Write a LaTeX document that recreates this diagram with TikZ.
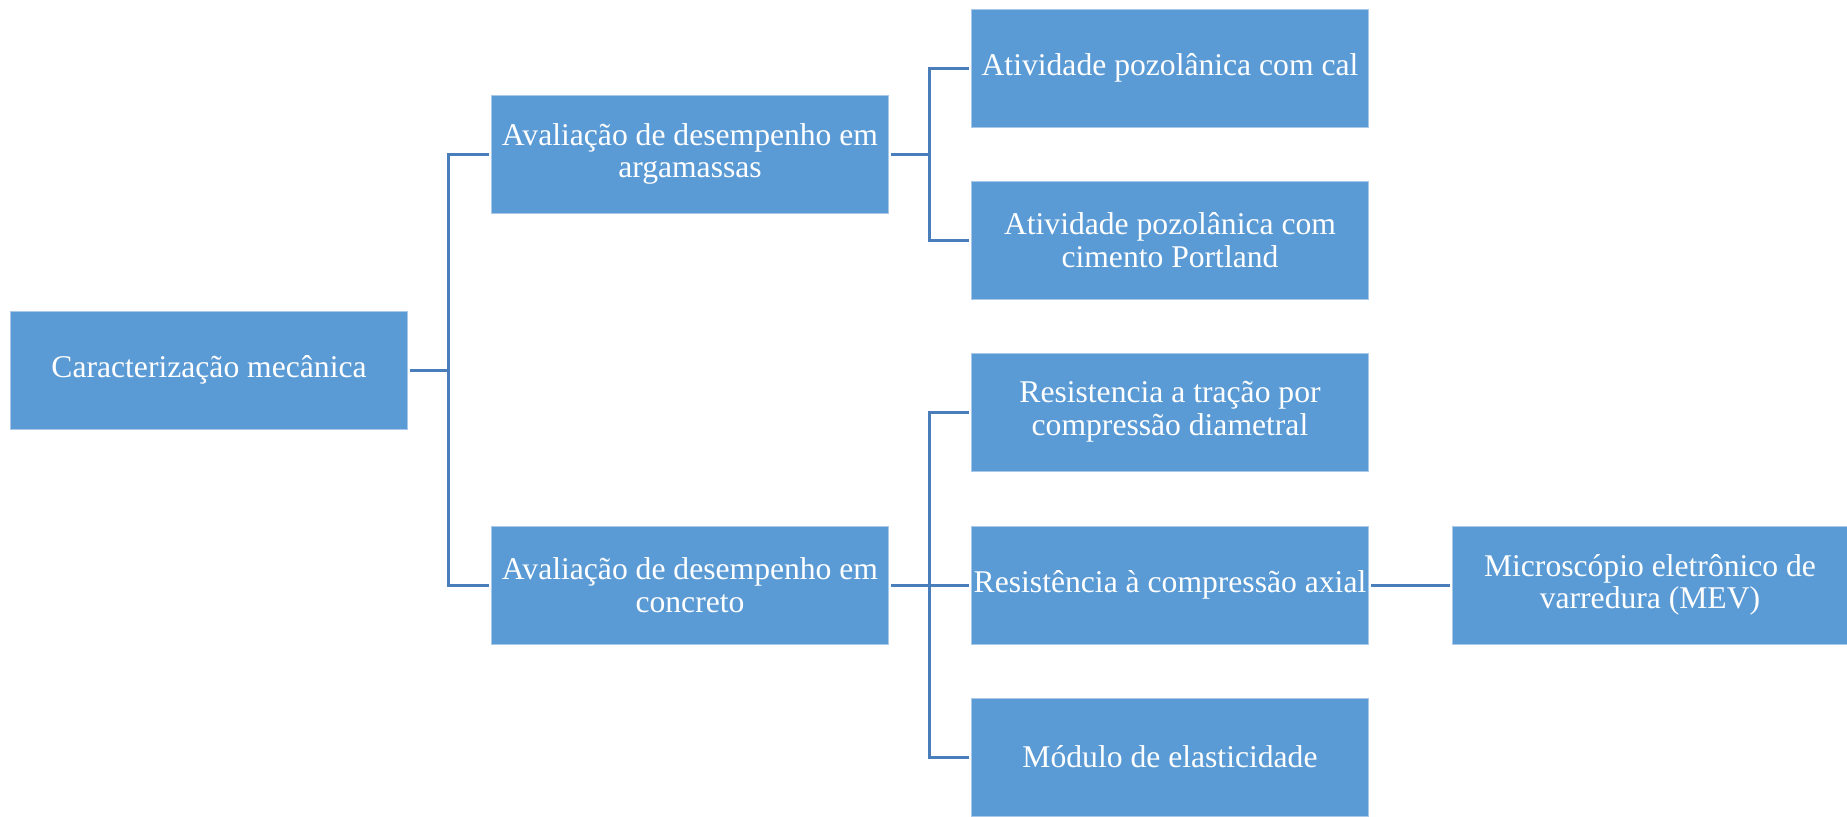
\documentclass[tikz,border=0pt]{standalone}
\usepackage{fontspec}
\setmainfont{Liberation Serif}
\definecolor{boxfill}{RGB}{91,155,213}
\definecolor{boxedge}{RGB}{170,200,232}
\definecolor{linkblue}{RGB}{74,126,187}
\begin{document}
\begin{tikzpicture}[x=0.02cm, y=-0.02cm, every node/.style={font=\fontsize{18}{18.6}\selectfont}]
\tikzset{stage/.style={fill=boxfill,draw=boxedge,line width=0.4pt,text=white,align=center,minimum width=7.94cm,minimum height=2.36cm,inner xsep=0pt,outer sep=0.06cm},
  link/.style={draw=linkblue,line width=1.7pt}}
\useasboundingbox (0,0) rectangle (1847,816);
\node[stage] (car) at (209,370) {Caracterização mecânica};
\node[stage] (arg) at (690,154) {Avaliação de desempenho em\\ argamassas};
\node[stage] (con) at (690,585) {Avaliação de desempenho em\\ concreto};
\node[stage] (cal) at (1170,68) {Atividade pozolânica com cal};
\node[stage] (por) at (1170,240) {Atividade pozolânica com\\ cimento Portland};
\node[stage] (tra) at (1170,412) {Resistencia a tração por\\ compressão diametral};
\node[stage] (axi) at (1170,585) {Resistência à compressão axial};
\node[stage] (mod) at (1170,757) {Módulo de elasticidade};
\node[stage,minimum width=7.9cm] (mev) at (1650,585) {Microscópio eletrônico de\\ varredura (MEV)};
% connectors
\draw[link] (car.east) -- ++(38,0) coordinate (j1) |- (arg.west);
\draw[link] (j1) |- (con.west);
\draw[link] (arg.east) -- ++(38,0) coordinate (j2) |- (cal.west);
\draw[link] (j2) |- (por.west);
\draw[link] (con.east) -- ++(38,0) coordinate (j3) |- (tra.west);
\draw[link] (j3) -- (axi.west);
\draw[link] (j3) |- (mod.west);
\draw[link] (axi) -- (mev);
\end{tikzpicture}
\end{document}
